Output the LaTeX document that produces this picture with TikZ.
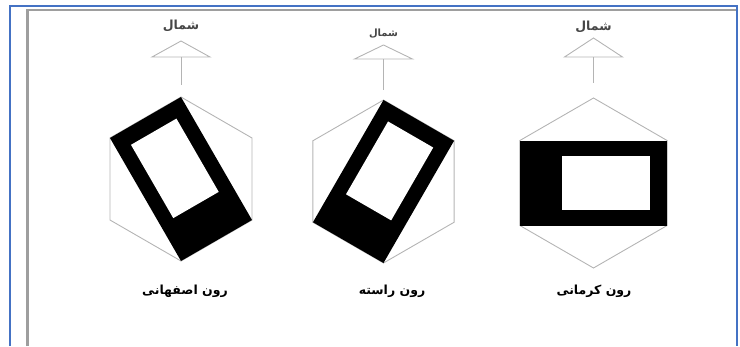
\documentclass[tikz,border=0pt]{standalone}
\usepackage{fontspec}
\newfontfamily\farsi[Script=Arabic]{DejaVu Sans}
\TeXXeTstate=1
\definecolor{frameblue}{RGB}{68,114,196}
\definecolor{shadowgray}{RGB}{158,158,158}
\definecolor{hexgray}{RGB}{180,180,180}
\definecolor{northgray}{RGB}{70,70,70}
\begin{document}
\begin{tikzpicture}[x=1pt, y=1pt,
    hexline/.style={draw=hexgray, line width=0.9pt},
    northline/.style={draw=hexgray, line width=0.9pt},
    roontext/.style={font=\farsi\bfseries\fontsize{12.5}{15}\selectfont, inner sep=0pt}]
  \useasboundingbox (0,0) rectangle (740,-346);
  % frame
  \draw[shadowgray, line width=2.6pt] (27.5,-346) -- (27.5,-10) -- (735.5,-10);
  \draw[frameblue, line width=2.4pt] (10,-346) -- (10,-6) -- (737,-6) -- (737,-346);
  % three orientations
  \foreach \cx/\cy/\R/\ang/\apex/\base/\stem/\ny/\fs/\lx/\nm/\txt in {
      181/179/82/-60/41/57/85/26/12.5/185/esf/{رون اصفهانی},
      383.5/181.5/81.5/240/45/59/90/34/10/392/ras/{رون راسته},
      593.5/183/85/180/38/57/83/27/12.5/594/ker/{رون کرمانی}} {
    \begin{scope}[shift={(\cx,-\cy)}]
      \draw[hexline] (90:\R) -- (150:\R) -- (210:\R) -- (270:\R) -- (330:\R) -- (30:\R) -- cycle;
      \begin{scope}[rotate=\ang]
        \fill (-0.866*\R,-0.5*\R) rectangle (0.866*\R,0.5*\R);
        \fill[white] (-0.666*\R,-0.32*\R) rectangle (0.366*\R,0.32*\R);
      \end{scope}
    \end{scope}
    % north arrow
    \coordinate (apex-\nm) at (\cx,-\apex);
    \coordinate (left-\nm) at (\cx-29,-\base);
    \coordinate (right-\nm) at (\cx+29,-\base);
    \coordinate (base-\nm) at (\cx,-\base);
    \coordinate (foot-\nm) at (\cx,-\stem);
    \draw[northline] (left-\nm) -- (apex-\nm) -- (right-\nm) -- cycle;
    \draw[northline] (base-\nm) -- (foot-\nm);
    \node[roontext, text=northgray, font=\farsi\bfseries\fontsize{\fs}{\fs}\selectfont] (north-\nm) at (\cx,-\ny) {\beginR شمال\endR};
    \node[roontext] (name-\nm) at (\lx,-291) {\beginR \txt\endR};
  }
\end{tikzpicture}
\end{document}
